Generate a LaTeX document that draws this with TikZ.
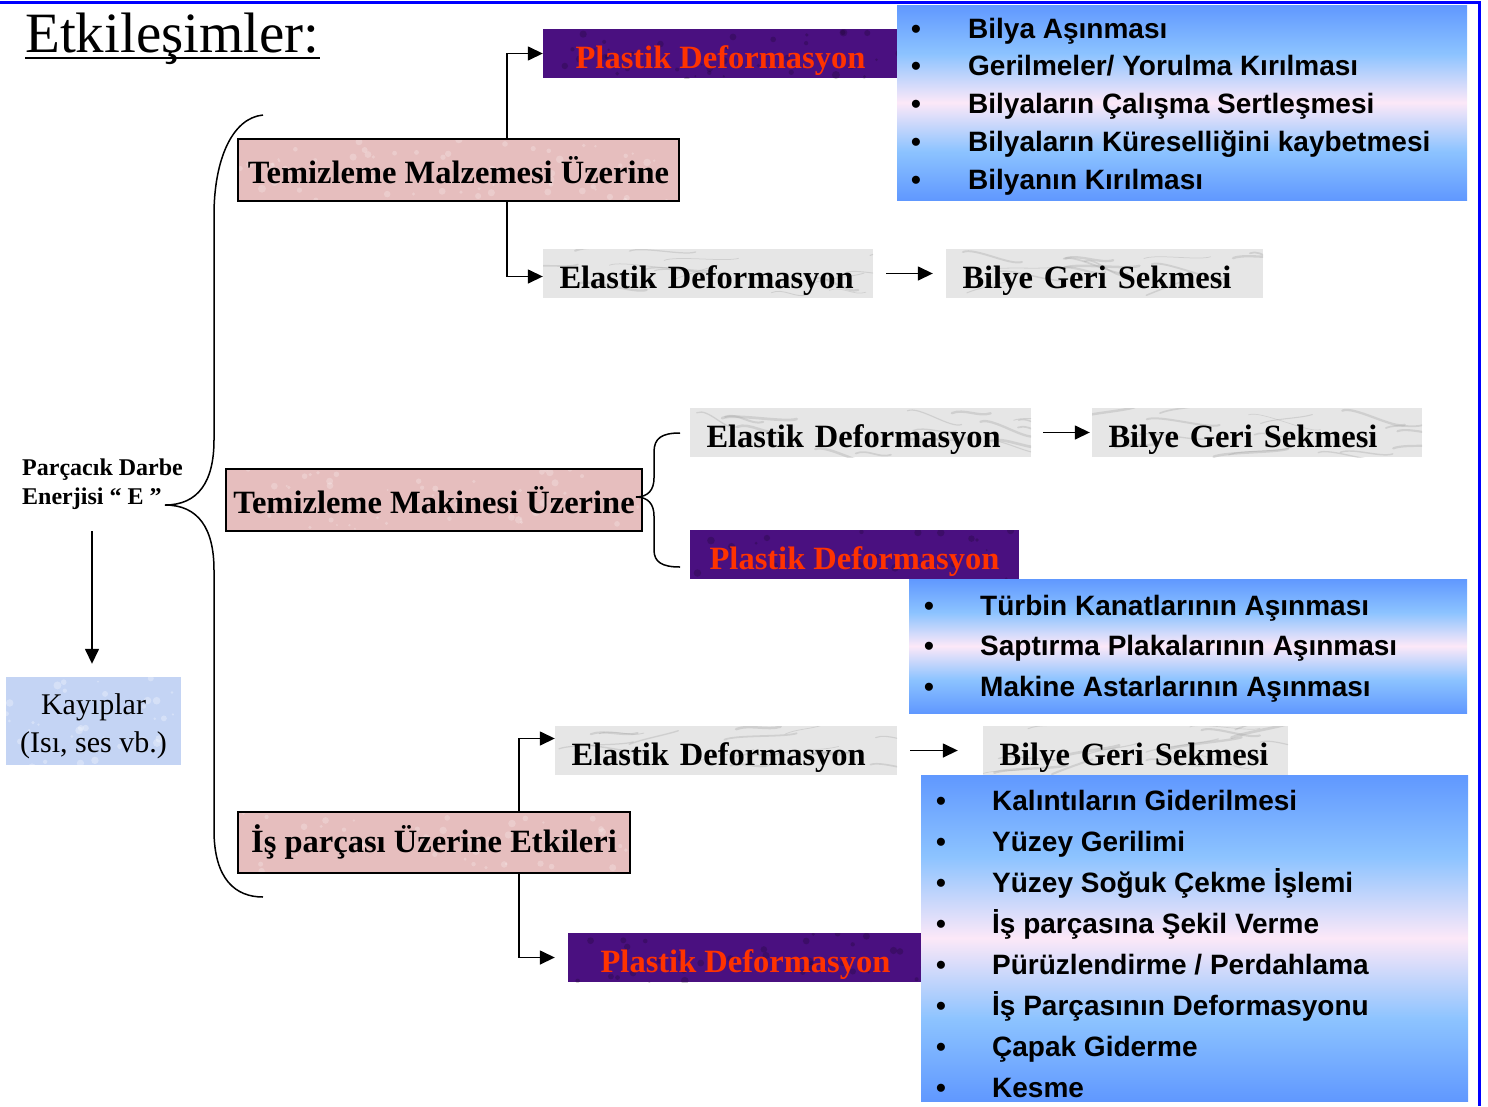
\documentclass[tikz,border=0pt]{standalone}
\usepackage{fontspec}
\setmainfont{Liberation Serif}
\newfontfamily\arialf{Liberation Sans}
\usetikzlibrary{arrows.meta,calc}
\definecolor{lb1}{RGB}{96,152,255}
\definecolor{lb2}{RGB}{140,195,255}
\definecolor{lpk}{RGB}{252,232,248}
\definecolor{pinkc}{RGB}{230,190,190}
\definecolor{marble}{RGB}{230,230,230}
\definecolor{purp}{RGB}{74,16,128}
\definecolor{redt}{RGB}{255,51,0}
\definecolor{kayc}{RGB}{196,212,244}
\definecolor{frameblue}{RGB}{0,0,255}
\pgfdeclareverticalshading{listshade}{100bp}{color(0bp)=(lb1); color(25bp)=(lb1); color(37.5bp)=(lb2); color(50bp)=(lpk); color(62.5bp)=(lb2); color(75bp)=(lb1); color(100bp)=(lb1)}
\begin{document}
\begin{tikzpicture}[x=1pt,y=-1pt,
  bigfont/.style={font=\fontsize{32.5}{38}\selectfont\bfseries},
  speckle/.style={path picture={
    \foreach \k in {1,...,90}{
      \fill[#1] ($(path picture bounding box.north west)+(rnd*450,rnd*95)$) circle[radius=1+rnd*3];
    }}},
  marbletex/.style={path picture={
    \foreach \k in {1,...,16}{
      \pgfmathsetmacro\xa{rnd*360-20}\pgfmathsetmacro\ya{rnd*49}\pgfmathsetmacro\lw{0.6+rnd*2.2}
      \pgfmathsetmacro\dx{35+rnd*40}\pgfmathsetmacro\dy{rnd*30-15}
      \draw[gray!70, opacity=0.35, line width=\lw pt, line cap=round]
        ($(path picture bounding box.north west)+(\xa,\ya)$) .. controls +(12,-5) and +(-12,4) .. +(\dx,\dy);
    }}},
  pinkbox/.style={bigfont, draw=black, line width=1.2pt, fill=pinkc, inner sep=0pt, speckle={white,opacity=0.22}},
  marblebox/.style={bigfont, fill=marble, inner xsep=16.5pt, inner ysep=0pt, text height=30pt, text depth=0pt, align=left, marbletex},
  purplebox/.style={bigfont, fill=purp, text=redt, inner sep=0pt, text height=30pt, text depth=0pt, speckle={black,opacity=0.18}},
  listbox/.style={shade, shading=listshade, inner sep=0pt},
  listfont/.style={font=\arialf\bfseries\fontsize{28}{34}\selectfont, inner sep=0pt, anchor=base west},
  arr/.style={line width=1.5pt, -{Triangle[length=15pt,width=14pt]}},
  brace/.style={line width=1.5pt}
]
\useasboundingbox (0,0) rectangle (1488,1106);
\pgfmathsetseed{42}

% title
\node[anchor=base west, inner sep=0pt, font=\fontsize{57}{60}\selectfont] (title) at (25,52) {Etkileşimler:};
\draw[line width=2.5pt] ($(title.base west)+(0,6)$) -- ($(title.base east)+(0,6)$);

% marble boxes
\node[marblebox, text width=297pt, minimum height=49pt] (e1) at (708,273.5) {Elastik Deformasyon};
\node[marblebox, text width=284pt, minimum height=49pt] (b1) at (1104.5,273.5) {Bilye Geri Sekmesi};
\node[marblebox, text width=308pt, minimum height=49pt] (e2) at (860.5,432.5) {Elastik Deformasyon};
\node[marblebox, text width=297pt, minimum height=49pt] (b2) at (1257,432.5) {Bilye Geri Sekmesi};
\node[marblebox, text width=309pt, minimum height=49pt] (e3) at (726,750.5) {Elastik Deformasyon};
\node[marblebox, text width=272pt, minimum height=49pt] (b3) at (1135.5,750.5) {Bilye Geri Sekmesi};

% purple boxes
\node[purplebox, minimum width=355pt, minimum height=49pt] (p1) at (720.5,53.5) {Plastik Deformasyon};
\node[purplebox, minimum width=329pt, minimum height=49pt] (p2) at (854.5,554.5) {Plastik Deformasyon};
\node[purplebox, minimum width=355pt, minimum height=49pt] (p3) at (745.5,957.5) {Plastik Deformasyon};

% gradient list boxes
\node[listbox, minimum width=570pt, minimum height=195pt] (list1) at (1182,102.5) {};
\node[listbox, minimum width=558pt, minimum height=134pt] (list2) at (1188,646) {};
\node[listbox, minimum width=547pt, minimum height=326pt] (list3) at (1194.5,938) {};

\foreach \t [count=\i] in {Bilya Aşınması, Gerilmeler/ Yorulma Kırılması, Bilyaların Çalışma Sertleşmesi, Bilyaların Küreselliğini kaybetmesi, Bilyanın Kırılması}{
  \node[listfont] (la\i) at (911,{38+(\i-1)*37.75}) {•};
  \node[listfont] (lat\i) at (968,{38+(\i-1)*37.75}) {\t};
}
\foreach \t [count=\i] in {Türbin Kanatlarının Aşınması, Saptırma Plakalarının Aşınması, Makine Astarlarının Aşınması}{
  \node[listfont] (lb\i) at (924,{615+(\i-1)*40.5}) {•};
  \node[listfont] (lbt\i) at (980,{615+(\i-1)*40.5}) {\t};
}
\foreach \t [count=\i] in {Kalıntıların Giderilmesi, Yüzey Gerilimi, Yüzey Soğuk Çekme İşlemi, İş parçasına Şekil Verme, Pürüzlendirme / Perdahlama, İş Parçasının Deformasyonu, Çapak Giderme, Kesme}{
  \node[listfont] (lc\i) at (936,{810+(\i-1)*41}) {•};
  \node[listfont] (lct\i) at (992,{810+(\i-1)*41}) {\t};
}

% skeleton coordinates
\coordinate (tx) at (507,0);
\coordinate (bx) at (519,0);
\coordinate (ks) at (92,531);

% bracket lines (behind the pink boxes)
\draw[arr] (tx |- p1.west) ++(0,110) |- (p1.west);
\draw[arr] (tx |- p1.west) ++(0,110) |- ([yshift=-3pt]e1.west);
\draw[arr] (bx |- p3.west) ++(0,-120) |- ([yshift=12pt]e3.west);
\draw[arr] (bx |- p3.west) ++(0,-120) |- ([xshift=-13pt]p3.west);

% pink boxes
\node[pinkbox, minimum width=441pt, minimum height=62pt] (tmm) at (458.5,170) {Temizleme Malzemesi Üzerine};
\node[pinkbox, minimum width=416pt, minimum height=62pt] (tmk) at (434,500) {Temizleme Makinesi Üzerine};
\node[pinkbox, minimum width=392pt, minimum height=61pt] (isp) at (434,842.5) {İş parçası Üzerine Etkileri};

% Parçacık and Kayıplar
\node[anchor=west, inner sep=0pt, align=left, font=\fontsize{24}{29}\selectfont\bfseries] (parc) at (22,484) {Parçacık Darbe\\Enerjisi “ E ”};
\node[fill=kayc, minimum width=175pt, minimum height=88pt, inner sep=0pt, speckle={white,opacity=0.3},
  label={[inner sep=0pt, align=center, font=\fontsize{30}{38}\selectfont, yshift=-5pt]center:{Kayıplar\\(Isı, ses vb.)}}] (kay) at (93.5,721) {};
\draw[arr] (ks) -- ($(kay.north)+(-1.5,-13)$);

% arrows between marble boxes
\draw[arr] ([xshift=13pt]e1.east) -- ([xshift=-13pt]b1.west);
\draw[arr] ([xshift=12pt]e2.east) -- ([xshift=-2pt]b2.west);
\draw[arr] ([xshift=13pt]e3.east) -- ([xshift=-25pt]b3.west);

% big brace
\draw[brace] (263,115) .. controls (232,118) and (214,160) .. (214,215) -- (214,440)
  .. controls (214,482) and (198,505) .. (165,505)
  .. controls (198,505) and (214,528) .. (214,570) -- (214,830)
  .. controls (214,880) and (236,897) .. (263,897);

% middle brace
\draw[brace] (680,433) .. controls (662,433) and (654,438) .. (654,452) -- (654,478)
  .. controls (654,490) and (648,497) .. (636,497)
  .. controls (648,497) and (654,504) .. (654,516) -- (654,550)
  .. controls (654,562) and (662,567) .. (680,567);

% frame
\draw[frameblue, line width=3pt] (0,2) -- (1479,2) -- (1479,1106);
\end{tikzpicture}
\end{document}
